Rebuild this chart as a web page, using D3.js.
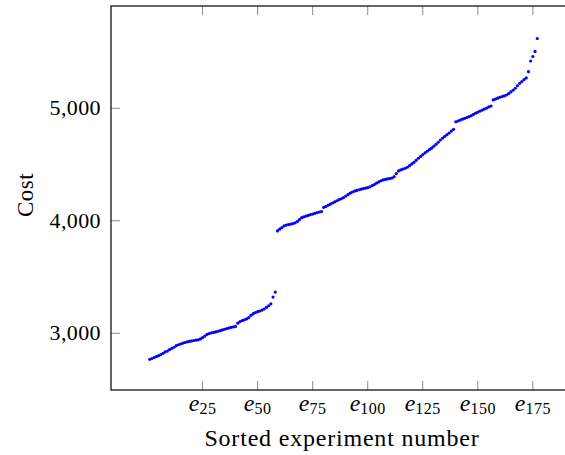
<!DOCTYPE html>
<html>
<head>
<meta charset="utf-8">
<script src="https://cdn.jsdelivr.net/npm/d3@7"></script>
<style>
  html, body { margin: 0; padding: 0; background: #fff; }
  svg { display: block; }
  text { font-family: "Liberation Serif", "DejaVu Serif", serif; fill: #000; }
</style>
</head>
<body>
<svg id="chart" width="565" height="455"></svg>
<script>
// Sorted cost of each experiment (experiment 1..177)
const costLow = [
  2769, 2776, 2785, 2793, 2801, 2810, 2822, 2834, 2842, 2855,
  2866, 2876, 2890, 2898, 2905, 2912, 2918, 2924, 2928, 2932,
  2936, 2939, 2942, 2950, 2962, 2975, 2990, 2998, 3004, 3008,
  3012, 3018, 3023, 3030, 3036, 3042, 3048, 3053, 3057, 3061,
  3090, 3104, 3113, 3120, 3128, 3140, 3160, 3174, 3184, 3192,
  3198, 3206, 3216, 3230, 3245, 3262, 3322, 3366
];
const costHigh = [
  3910, 3925, 3940, 3955, 3962, 3966, 3970, 3975, 3982, 3992, 4010, 4028,
  4035, 4042, 4048, 4055, 4060, 4066, 4072, 4078, 4082, 4120,
  4128, 4138, 4148, 4158, 4168, 4178, 4188, 4196, 4206, 4220,
  4232, 4245, 4256, 4263, 4270, 4276, 4281, 4286, 4290, 4295,
  4302, 4312, 4322, 4334, 4345, 4356, 4363, 4368, 4372, 4376,
  4380, 4392, 4420, 4443, 4452, 4460, 4467, 4476, 4490, 4505,
  4520, 4537, 4556, 4572, 4588, 4603, 4618, 4632, 4645, 4662,
  4680, 4698, 4718, 4735, 4750, 4765, 4780, 4797, 4813, 4880,
  4887, 4895, 4903, 4911, 4918, 4925, 4934, 4945, 4956, 4966,
  4975, 4984, 4993, 5002, 5012, 5020, 5074, 5082, 5090, 5098,
  5104, 5110, 5118, 5130, 5145, 5160, 5178, 5200, 5222, 5238,
  5255, 5270, 5325, 5420, 5460, 5505, 5620
];
const xTicks = [25, 50, 75, 100, 125, 150, 175];
const yTicks = [3000, 4000, 5000];
const xTitle = "Sorted experiment number";
const yTitle = "Cost";

const costs = costLow.concat(costHigh);
const points = costs.map((c, i) => ({ n: i + 1, cost: c }));

const svg = d3.select("#chart");
const plotLeft = 111, plotRight = 576, plotTop = 6, plotBottom = 390;

const x = d3.scaleLinear().domain([-16.6, 194.6]).range([plotLeft, plotRight]);
const y = d3.scaleLinear().domain([2496, 5909]).range([plotBottom, plotTop]);

const tickLen = 9;
const tickColor = "#8a8a8a";

// bottom and top ticks, labels as italic e with subscript index
const xt = svg.append("g");
xTicks.forEach(t => {
  const px = x(t);
  xt.append("line").attr("x1", px).attr("x2", px).attr("y1", plotBottom).attr("y2", plotBottom - tickLen)
    .attr("stroke", tickColor).attr("stroke-width", 1);
  xt.append("line").attr("x1", px).attr("x2", px).attr("y1", plotTop).attr("y2", plotTop + tickLen)
    .attr("stroke", tickColor).attr("stroke-width", 1);
  const lbl = xt.append("text").attr("x", px).attr("y", 411).attr("text-anchor", "middle");
  lbl.append("tspan").attr("font-style", "italic").attr("font-size", 24).text("e");
  lbl.append("tspan").attr("font-size", 16).attr("dy", 3).attr("letter-spacing", 0.5).text(t);
});

// left ticks and labels
const fmt = d3.format(",");
const yt = svg.append("g");
yTicks.forEach(t => {
  const py = y(t);
  yt.append("line").attr("x1", plotLeft).attr("x2", plotLeft + tickLen).attr("y1", py).attr("y2", py)
    .attr("stroke", tickColor).attr("stroke-width", 1);
  yt.append("text").attr("x", 101).attr("y", py + 7).attr("text-anchor", "end")
    .attr("font-size", 22).attr("letter-spacing", 0.4).text(fmt(t));
});

// frame
svg.append("rect").attr("x", plotLeft).attr("y", plotTop)
  .attr("width", plotRight - plotLeft).attr("height", plotBottom - plotTop)
  .attr("fill", "none").attr("stroke", "#000").attr("stroke-width", 1.2);

// data marks
svg.append("g").selectAll("circle").data(points).join("circle")
  .attr("cx", d => x(d.n)).attr("cy", d => y(d.cost)).attr("r", 1.6)
  .attr("fill", "#0000ff");

// axis titles
svg.append("text").attr("x", 342).attr("y", 446).attr("text-anchor", "middle")
  .attr("font-size", 24).attr("letter-spacing", 0.8).text(xTitle);
svg.append("text").attr("transform", `translate(33,195) rotate(-90)`)
  .attr("text-anchor", "middle").attr("font-size", 23).attr("letter-spacing", 0.5).text(yTitle);
</script>
</body>
</html>
